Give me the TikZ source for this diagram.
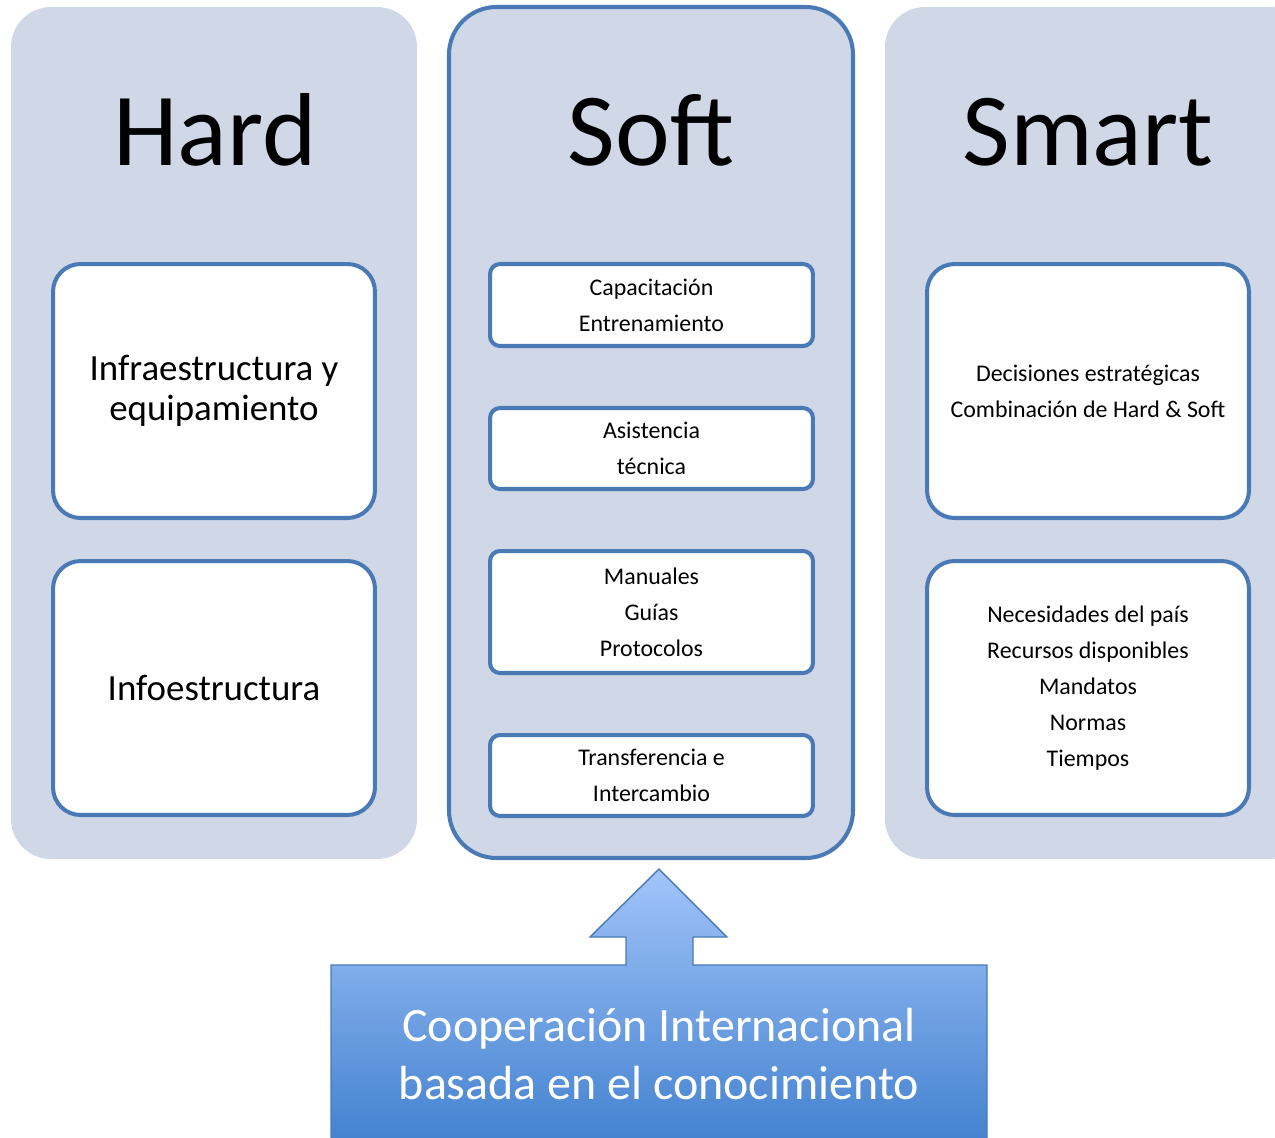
\documentclass[tikz,border=0pt]{standalone}
\usepackage{fontspec}
\setmainfont{Carlito}
\usepackage{tikz}

\definecolor{panelfill}{HTML}{D0D8E8}
\definecolor{frameblue}{HTML}{4A7AB6}
\definecolor{arrowtop}{HTML}{A2C4FA}
\definecolor{arrowbot}{HTML}{4080CE}

\tikzset{
  panel/.style={fill=panelfill, rounded corners=0.8cm},
  title/.style={anchor=base, font=\fontsize{59}{70}\selectfont},
  bigbox/.style={draw=frameblue, line width=2.3pt, fill=white, rounded corners=0.55cm,
    minimum width=6.44cm, minimum height=5.08cm, align=center},
  smallbox/.style={draw=frameblue, line width=2.3pt, fill=white, rounded corners=0.2cm,
    minimum width=6.46cm, align=center, font=\fontsize{13.6}{20.5}\selectfont},
  midtext/.style={font=\fontsize{21}{22.8}\selectfont},
  smalltext/.style={font=\fontsize{13.6}{20.5}\selectfont},
  cooptext/.style={align=center, text=white, font=\fontsize{27.3}{33}\selectfont},
}

\begin{document}
\begin{tikzpicture}[x=0.02cm,y=-0.02cm]
\useasboundingbox (0,0) rectangle (1275,1137);

\fill[panel] (11,7) rectangle (417,859);
\filldraw[panel, draw=frameblue, line width=2.3pt, rounded corners=0.95cm] (449,7) rectangle (853,858);
\fill[panel] (885,7) rectangle (1310,859);

\node[title] (hardtitle) at (215,165) {Hard};
\node[title] (softtitle) at (651,165) {Soft};
\node[title] (smarttitle) at (1088,165) {Smart};

\node[bigbox, midtext] (infra) at (214,391) {Infraestructura y\\equipamiento};
\node[bigbox, midtext] (info) at (214,688) {Infoestructura};

\node[smallbox, minimum height=1.64cm] (capac) at (651.5,305) {Capacitación\\Entrenamiento};
\node[smallbox, minimum height=1.62cm] (asist) at (651.5,448.5) {Asistencia\\técnica};
\node[smallbox, minimum height=2.44cm] (manual) at (651.5,612) {Manuales\\Guías\\Protocolos};
\node[smallbox, minimum height=1.62cm] (transf) at (651.5,775.5) {Transferencia e\\Intercambio};

\node[bigbox, smalltext] (decis) at (1088,391) {Decisiones estratégicas\\Combinación de Hard \& Soft};
\node[bigbox, smalltext] (neces) at (1088,688) {Necesidades del país\\Recursos disponibles\\Mandatos\\Normas\\Tiempos};

\shadedraw[top color=arrowtop, bottom color=arrowbot, draw=frameblue, line width=0.8pt]
  (331,965) -- (626,965) -- (626,937) -- (590,937) -- (659,869) -- (727,937)
  -- (693,937) -- (693,965) -- (987,965) -- (987,1150) -- (331,1150) -- cycle;
\node[cooptext] (coop) at (659,1054) {Cooperación Internacional\\basada en el conocimiento};
\end{tikzpicture}
\end{document}
